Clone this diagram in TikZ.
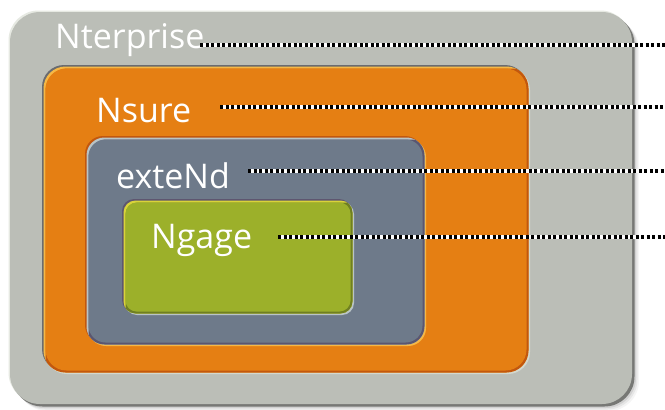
\documentclass[tikz,border=0pt]{standalone}
\usepackage{fontspec}
\setmainfont{Open Sans}
\definecolor{grayfill}{HTML}{BBBEB7}
\definecolor{grayedge}{HTML}{777875}
\definecolor{graylight}{HTML}{E6E9E2}
\definecolor{orangefill}{HTML}{E57F13}
\definecolor{orangehi}{HTML}{F6B845}
\definecolor{orangedark}{HTML}{C2570E}
\definecolor{slatefill}{HTML}{6E7A8A}
\definecolor{slatehi}{HTML}{B9C4C6}
\definecolor{slatedark}{HTML}{5A5670}
\definecolor{greenfill}{HTML}{9CB02A}
\definecolor{greenhi}{HTML}{D9D33A}
\definecolor{greendark}{HTML}{6F7F22}
\definecolor{outerdark}{HTML}{6A6C70}
\definecolor{outerlight}{HTML}{D3D8CF}
\definecolor{purpleedge}{HTML}{5E5670}
\tikzset{
  lbl/.style={font=\fontsize{34}{34}\selectfont, text=white, inner sep=0pt, anchor=base west},
  leader/.style={draw=white, line width=3.5pt, postaction={draw=black, line width=3.5pt, dash pattern=on 3pt off 2.5pt}},
}
\begin{document}
\begin{tikzpicture}[x=1pt,y=-1pt]
\useasboundingbox (0,0) rectangle (665,410);
\fill[white] (0,0) rectangle (665,410);
% shadow of the outer box
\foreach \s/\o in {7/0.04,5.5/0.06,4/0.09}{
  \fill[black,opacity=\o,rounded corners=30pt] (10+\s,12+\s) rectangle (632+\s,404+\s);
}
% outer gray box
\fill[graylight,rounded corners=30pt] (8.5,10.5) rectangle (630.5,402.5);
\fill[grayedge,rounded corners=30pt] (12.5,14.5) rectangle (634.5,406.5);
\fill[grayfill,rounded corners=30pt] (10,12) rectangle (632,404);

% orange box
\fill[outerdark,rounded corners=22pt] (42,65) rectangle (527,371);
\fill[outerlight,rounded corners=22pt] (45,68) rectangle (530,374);
\begin{scope}
  \clip[rounded corners=22pt] (43.5,66.5) rectangle (528.5,372.5);
  \fill[orangehi] (40,60) rectangle (535,380);
  \fill[orangedark,rounded corners=22pt] (45.5,68.5) rectangle (540,380);
  \fill[orangefill,rounded corners=21pt] (45.5,68.5) rectangle (526.5,370.5);
\end{scope}

% slate box
\fill[orangedark,rounded corners=18pt] (85,136) rectangle (423,343);
\fill[orangehi,rounded corners=18pt] (88,139) rectangle (426,346);
\begin{scope}
  \clip[rounded corners=18pt] (86.5,137.5) rectangle (424.5,344.5);
  \fill[slatehi] (80,130) rectangle (430,350);
  \fill[slatedark,rounded corners=18pt] (88.5,139.5) rectangle (430,350);
  \fill[slatefill,rounded corners=17pt] (88.5,139.5) rectangle (422.5,342.5);
\end{scope}

% green box
\fill[purpleedge,rounded corners=12pt] (122,199) rectangle (351,312);
\fill[slatehi,rounded corners=12pt] (125,202) rectangle (354,315);
\begin{scope}
  \clip[rounded corners=12pt] (123.5,200.5) rectangle (352.5,313.5);
  \fill[greenhi] (118,195) rectangle (360,320);
  \fill[greendark,rounded corners=12pt] (125.5,202.5) rectangle (360,320);
  \fill[greenfill,rounded corners=11pt] (125.5,202.5) rectangle (350.5,311.5);
\end{scope}

% labels
\node[lbl] (nterprise) at (55,48) {Nterprise};
\node[lbl] (nsure) at (96,122) {Nsure};
\node[lbl] (extend) at (116,188) {exteNd};
\node[lbl] (ngage) at (151,248) {Ngage};

% leader lines
\coordinate (s1) at (200,45);  \coordinate (e1) at (665,45);
\coordinate (s2) at (220,107); \coordinate (e2) at (665,107);
\coordinate (s3) at (248,171); \coordinate (e3) at (665,171);
\coordinate (s4) at (278,237); \coordinate (e4) at (665,237);
\draw[leader] (s1) -- (e1);
\draw[leader] (s2) -- (e2);
\draw[leader] (s3) -- (e3);
\draw[leader] (s4) -- (e4);
\end{tikzpicture}
\end{document}
